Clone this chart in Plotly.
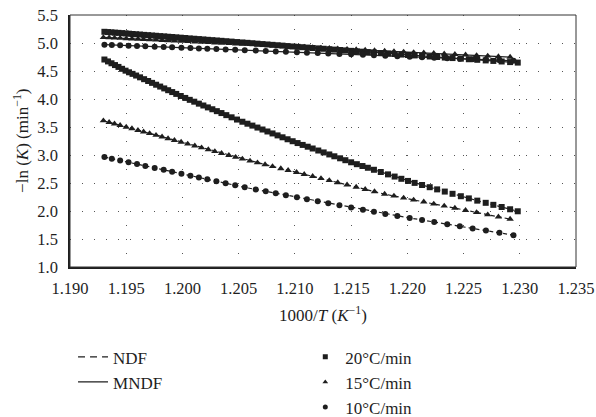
import plotly.graph_objects as go

# ---------------- data ----------------
# 1000/T values (K^-1) for each heating rate
x_20 = [1.19306, 1.19338, 1.19369, 1.19400, 1.19431, 1.19463, 1.19494, 1.19525, 1.19556, 1.19588,
        1.19623, 1.19659, 1.19695, 1.19730, 1.19766, 1.19802, 1.19838, 1.19873, 1.19909, 1.19945,
        1.19985, 1.20025, 1.20065, 1.20105, 1.20146, 1.20186, 1.20226, 1.20266, 1.20306, 1.20347,
        1.20390, 1.20437, 1.20485, 1.20533, 1.20578, 1.20622, 1.20667, 1.20712, 1.20756, 1.20801,
        1.20846, 1.20890, 1.20935, 1.20980, 1.21024, 1.21069, 1.21114, 1.21158, 1.21208, 1.21256,
        1.21306, 1.21351, 1.21402, 1.21449, 1.21500, 1.21551, 1.21601, 1.21649, 1.21703, 1.21764,
        1.21828, 1.21887, 1.21947, 1.22006, 1.22065, 1.22131, 1.22199, 1.22265, 1.22333, 1.22402,
        1.22476, 1.22547, 1.22622, 1.22697, 1.22765, 1.22839, 1.22914, 1.22982]
ndf_20 = [4.705, 4.671, 4.638, 4.606, 4.573, 4.539, 4.506, 4.477, 4.449, 4.419,
          4.387, 4.354, 4.321, 4.288, 4.255, 4.222, 4.189, 4.157, 4.124, 4.091,
          4.054, 4.019, 3.985, 3.952, 3.917, 3.884, 3.850, 3.817, 3.783, 3.749,
          3.712, 3.673, 3.633, 3.594, 3.559, 3.525, 3.490, 3.455, 3.420, 3.385,
          3.350, 3.316, 3.281, 3.246, 3.213, 3.180, 3.148, 3.116, 3.080, 3.046,
          3.010, 2.977, 2.941, 2.907, 2.870, 2.836, 2.803, 2.772, 2.736, 2.696,
          2.654, 2.615, 2.575, 2.537, 2.502, 2.464, 2.425, 2.386, 2.347, 2.307,
          2.264, 2.225, 2.185, 2.146, 2.110, 2.071, 2.031, 1.995]
mndf_20 = [5.200, 5.195, 5.190, 5.185, 5.181, 5.176, 5.171, 5.166, 5.161, 5.156,
           5.151, 5.145, 5.140, 5.134, 5.129, 5.123, 5.118, 5.112, 5.107, 5.101,
           5.095, 5.089, 5.082, 5.076, 5.070, 5.064, 5.057, 5.051, 5.045, 5.039,
           5.032, 5.025, 5.017, 5.010, 5.003, 4.996, 4.988, 4.981, 4.974, 4.967,
           4.960, 4.953, 4.945, 4.938, 4.931, 4.925, 4.918, 4.911, 4.904, 4.897,
           4.889, 4.882, 4.875, 4.868, 4.860, 4.852, 4.845, 4.838, 4.830, 4.820,
           4.811, 4.803, 4.794, 4.786, 4.778, 4.769, 4.759, 4.750, 4.740, 4.731,
           4.720, 4.710, 4.700, 4.689, 4.680, 4.670, 4.659, 4.650]

x_15 = [1.19297, 1.19348, 1.19396, 1.19446, 1.19500, 1.19551, 1.19604, 1.19654, 1.19708, 1.19765,
        1.19819, 1.19872, 1.19929, 1.19988, 1.20047, 1.20110, 1.20170, 1.20230, 1.20288, 1.20348,
        1.20413, 1.20473, 1.20533, 1.20601, 1.20667, 1.20735, 1.20801, 1.20875, 1.20940, 1.21015,
        1.21083, 1.21158, 1.21232, 1.21306, 1.21381, 1.21464, 1.21545, 1.21625, 1.21708, 1.21798,
        1.21881, 1.21967, 1.22056, 1.22146, 1.22235, 1.22328, 1.22423, 1.22518, 1.22616, 1.22715,
        1.22810, 1.22914]
ndf_15 = [3.612, 3.584, 3.558, 3.530, 3.500, 3.472, 3.442, 3.415, 3.385, 3.353,
          3.324, 3.294, 3.263, 3.230, 3.197, 3.163, 3.130, 3.097, 3.064, 3.031,
          2.995, 2.962, 2.929, 2.895, 2.863, 2.829, 2.796, 2.759, 2.727, 2.690,
          2.656, 2.619, 2.582, 2.546, 2.508, 2.467, 2.427, 2.388, 2.346, 2.302,
          2.268, 2.234, 2.198, 2.163, 2.127, 2.090, 2.052, 2.013, 1.974, 1.935,
          1.897, 1.855]
mndf_15 = [5.100, 5.095, 5.090, 5.086, 5.080, 5.075, 5.070, 5.065, 5.060, 5.055,
           5.049, 5.044, 5.039, 5.033, 5.027, 5.021, 5.015, 5.010, 5.004, 4.998,
           4.992, 4.986, 4.980, 4.974, 4.967, 4.961, 4.954, 4.947, 4.941, 4.933,
           4.927, 4.920, 4.912, 4.905, 4.898, 4.890, 4.882, 4.874, 4.866, 4.857,
           4.849, 4.841, 4.832, 4.824, 4.815, 4.806, 4.797, 4.788, 4.778, 4.768,
           4.759, 4.749]

x_10 = [1.19306, 1.19372, 1.19446, 1.19521, 1.19596, 1.19670, 1.19753, 1.19833, 1.19908, 1.19991,
        1.20071, 1.20146, 1.20221, 1.20302, 1.20384, 1.20469, 1.20554, 1.20652, 1.20741, 1.20830,
        1.20920, 1.21018, 1.21107, 1.21203, 1.21297, 1.21396, 1.21500, 1.21605, 1.21703, 1.21804,
        1.21911, 1.22021, 1.22131, 1.22239, 1.22355, 1.22467, 1.22581, 1.22699, 1.22819, 1.22944]
ndf_10 = [2.963, 2.934, 2.902, 2.870, 2.838, 2.805, 2.769, 2.735, 2.702, 2.666,
          2.631, 2.599, 2.566, 2.531, 2.496, 2.459, 2.422, 2.385, 2.351, 2.317,
          2.283, 2.246, 2.212, 2.176, 2.140, 2.103, 2.063, 2.024, 1.986, 1.948,
          1.912, 1.876, 1.839, 1.803, 1.764, 1.727, 1.689, 1.650, 1.610, 1.568]
mndf_10 = [4.970, 4.965, 4.959, 4.953, 4.947, 4.941, 4.935, 4.928, 4.922, 4.916,
           4.910, 4.904, 4.898, 4.891, 4.885, 4.878, 4.871, 4.864, 4.857, 4.850,
           4.843, 4.835, 4.828, 4.820, 4.813, 4.805, 4.797, 4.788, 4.781, 4.773,
           4.764, 4.756, 4.747, 4.738, 4.729, 4.720, 4.711, 4.702, 4.692, 4.683]

rate_labels = ["20°C/min", "15°C/min", "10°C/min"]
model_labels = ["NDF", "MNDF"]

# ---------------- styling ----------------
INK = "#1e1e1e"
FONT = "Liberation Serif, Times New Roman, serif"
FS = 17
TFS = 16.5

series = [
    (x_20, ndf_20, mndf_20, "square", 6),
    (x_15, ndf_15, mndf_15, "triangle-up", 6.5),
    (x_10, ndf_10, mndf_10, "circle", 6),
]

fig = go.Figure()
for xs, ndf, mndf, sym, ms in series:
    fig.add_trace(go.Scatter(
        x=xs, y=mndf, mode="lines+markers", showlegend=False,
        line=dict(color=INK, width=1.3),
        marker=dict(symbol=sym, size=ms, color=INK),
    ))
    fig.add_trace(go.Scatter(
        x=xs, y=ndf, mode="lines+markers", showlegend=False,
        line=dict(color=INK, width=1.2, dash="4px,3px"),
        marker=dict(symbol=sym, size=ms, color=INK),
    ))

# legend entries: line styles
fig.add_trace(go.Scatter(x=[None], y=[None], mode="lines", name=model_labels[0],
                         line=dict(color=INK, width=1.2, dash="7px,5px"), legend="legend"))
fig.add_trace(go.Scatter(x=[None], y=[None], mode="lines", name=model_labels[1],
                         line=dict(color=INK, width=1.2), legend="legend"))
# legend entries: markers
for lab, sym in zip(rate_labels, ["square", "triangle-up", "circle"]):
    fig.add_trace(go.Scatter(x=[None], y=[None], mode="markers", name=lab,
                             marker=dict(symbol=sym, size=5, color=INK), legend="legend2"))

grid_common = dict(showgrid=True, gridcolor="#555555", gridwidth=1, zeroline=False,
                   ticks="", showline=True, linecolor=INK, linewidth=1.6,
                   tickfont=dict(family=FONT, size=TFS, color=INK))

fig.update_xaxes(range=[1.19, 1.235], dtick=0.005, tick0=1.19, tickformat=".3f",
                 griddash="1px,13px", ticklabelstandoff=5, **grid_common)
fig.update_yaxes(range=[1.0, 5.5], dtick=0.5, tick0=1.0, tickformat=".1f",
                 griddash="1px,11px", ticklabelstandoff=7, **grid_common)

# frame (top / right)
fig.add_shape(type="rect", xref="paper", yref="paper", x0=0, x1=1, y0=0, y1=1,
              line=dict(color="#333333", width=1), layer="above")

# axis titles
fig.add_annotation(text="1000/<i>T</i> (<i>K</i><sup>−1</sup>)", xref="paper", yref="paper",
                   x=0.5, y=-0.188, xanchor="center", yanchor="middle", showarrow=False,
                   font=dict(family=FONT, size=FS, color=INK))
fig.add_annotation(text="−ln (<i>K</i>) (min<sup>−1</sup>)", xref="paper", yref="paper",
                   x=-0.097, y=0.5, xanchor="center", yanchor="middle", showarrow=False,
                   textangle=-90, font=dict(family=FONT, size=FS, color=INK))

fig.update_layout(
    width=596, height=417,
    margin=dict(l=70, r=20, t=15, b=150, autoexpand=False),
    paper_bgcolor="white", plot_bgcolor="white",
    font=dict(family=FONT, size=FS, color=INK),
    hovermode=False,
    legend=dict(x=0.006, y=-0.287, xanchor="left", yanchor="top",
                bgcolor="rgba(0,0,0,0)", font=dict(family=FONT, size=FS, color=INK),
                itemwidth=30, tracegroupgap=0),
    legend2=dict(x=0.465, y=-0.287, xanchor="left", yanchor="top",
                 bgcolor="rgba(0,0,0,0)", font=dict(family=FONT, size=FS, color=INK),
                 itemwidth=30, tracegroupgap=0),
)

# remove the default page margin so the figure sits at the window origin
fig.write_html(
    "out.html",
    config={"displayModeBar": False},
    post_script="document.body.style.margin='0';document.body.style.overflow='hidden';",
)
